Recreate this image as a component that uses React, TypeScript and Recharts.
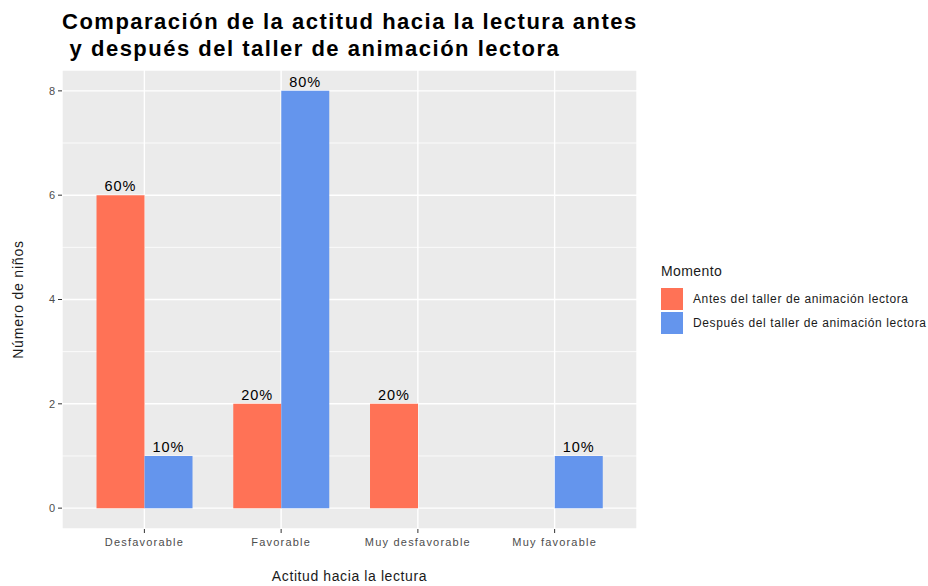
import { BarChart, Bar, XAxis, YAxis, CartesianGrid, Legend, LabelList } from 'recharts'

const categories = ['Desfavorable', 'Favorable', 'Muy desfavorable', 'Muy favorable']
const antes = [6, 2, 2, null]
const despues = [1, 8, null, 1]
const antesPct = ['60%', '20%', '20%', null]
const despuesPct = ['10%', '80%', null, '10%']
const seriesNames = ['Antes del taller de animación lectora', 'Después del taller de animación lectora']
const yTicks = [0, 2, 4, 6, 8]
const yMinor = [1, 3, 5, 7]
const titleLines = ['Comparación de la actitud hacia la lectura antes', ' y después del taller de animación lectora']
const legendTitle = 'Momento'
const xTitle = 'Actitud hacia la lectura'
const yTitle = 'Número de niños'

const data = categories.map((c, i) => ({
  cat: c,
  antes: antes[i],
  despues: despues[i],
  antesPct: antesPct[i],
  despuesPct: despuesPct[i],
}))

const FONT = '"Liberation Sans", Arial, sans-serif'

const renderPct = (props: any) => {
  const { x, y, width, value } = props
  if (value == null) return null
  return (
    <text
      x={Number(x) + Number(width) / 2}
      y={Number(y) - 4}
      textAnchor="middle"
      fontSize={14.5}
      letterSpacing={1}
      fill="#000"
      fontFamily={FONT}
    >
      {value}
    </text>
  )
}

const renderLegend = (props: any) => {
  const { payload } = props
  return (
    <div style={{ fontFamily: FONT, color: '#1a1a1a' }}>
      <div style={{ fontSize: 14, letterSpacing: 0.4, lineHeight: '16px', marginBottom: 8, marginLeft: 1 }}>{legendTitle}</div>
      {(payload || []).map((entry: any) => (
        <div key={entry.value} style={{ display: 'flex', alignItems: 'center', height: 24 }}>
          <span
            style={{
              width: 24,
              height: 24,
              background: entry.color,
              display: 'inline-block',
              border: '1px solid #fff',
              boxSizing: 'border-box',
            }}
          />
          <span style={{ marginLeft: 9, fontSize: 12, letterSpacing: 0.6 }}>{entry.value}</span>
        </div>
      ))}
    </div>
  )
}

export default function App() {
  return (
    <div style={{ position: 'absolute', left: 0, top: 0, width: 928, height: 586, background: '#fff', fontFamily: FONT }}>
      <BarChart
        width={928}
        height={586}
        data={data}
        margin={{ top: 70, right: 291, bottom: 0, left: 0 }}
        barCategoryGap="15%"
        barGap={0}
      >
        <CartesianGrid fill="#EBEBEB" stroke="#fff" strokeWidth={1.4} />
        <CartesianGrid vertical={false} horizontalValues={yMinor} stroke="#fff" strokeWidth={0.8} />
        <XAxis
          dataKey="cat"
          height={57}
          padding={{ left: 14, right: 14 }}
          axisLine={false}
          tickSize={4}
          tickMargin={5}
          tickLine={{ stroke: '#333' }}
          tick={{ fontSize: 11, fill: '#4D4D4D', fontFamily: FONT, letterSpacing: 1.2 }}
          interval={0}
          label={{
            content: (p: any) => {
              const vb = p.viewBox
              return (
                <text
                  x={vb.x + vb.width / 2}
                  y={vb.y + 52}
                  textAnchor="middle"
                  fontSize={14}
                  letterSpacing={0.6}
                  fill="#1a1a1a"
                  fontFamily={FONT}
                >
                  {xTitle}
                </text>
              )
            },
          }}
        />
        <YAxis
          width={62}
          domain={[-0.4, 8.4]}
          ticks={yTicks}
          axisLine={false}
          tickSize={4}
          tickMargin={3}
          tickLine={{ stroke: '#333' }}
          tick={{ fontSize: 11, fill: '#4D4D4D', fontFamily: FONT }}
          label={{
            content: (p: any) => {
              const vb = p.viewBox
              const cx = vb.x + 23
              const cy = vb.y + vb.height / 2
              return (
                <text
                  x={cx}
                  y={cy}
                  transform={`rotate(-90 ${cx} ${cy})`}
                  textAnchor="middle"
                  fontSize={14}
                  letterSpacing={0.8}
                  fill="#1a1a1a"
                  fontFamily={FONT}
                >
                  {yTitle}
                </text>
              )
            },
          }}
        />
        <Legend
          layout="vertical"
          align="center"
          verticalAlign="middle"
          wrapperStyle={{ left: 660, top: 263, width: 268 }}
          content={renderLegend}
        />
        <Bar dataKey="antes" name={seriesNames[0]} fill="#FF7256" isAnimationActive={false}>
          <LabelList dataKey="antesPct" content={renderPct} />
        </Bar>
        <Bar dataKey="despues" name={seriesNames[1]} fill="#6495ED" isAnimationActive={false}>
          <LabelList dataKey="despuesPct" content={renderPct} />
        </Bar>
      </BarChart>
      <div
        style={{
          position: 'absolute',
          left: 62,
          top: 8,
          fontSize: 22,
          fontWeight: 'bold',
          letterSpacing: 1.5,
          lineHeight: '27px',
          whiteSpace: 'pre',
          color: '#000',
        }}
      >
        {titleLines.join('\n')}
      </div>
    </div>
  )
}
